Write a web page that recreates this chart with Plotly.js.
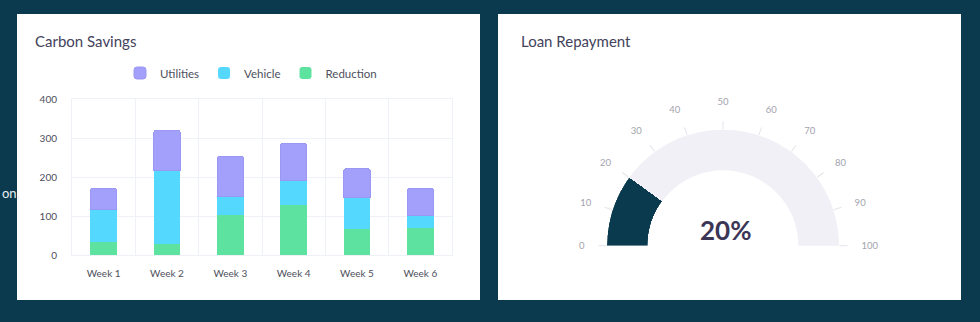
<!DOCTYPE html>
<html>
<head>
<meta charset="utf-8">
<script src="https://cdn.plot.ly/plotly-3.0.1.min.js"></script>
<style>html,body{margin:0;padding:0;background:#0b3a4f;}#chart{width:980px;height:322px;}</style>
</head>
<body>
<div id="chart"></div>
<script>
// ---- data ----
const weeks = ["Week 1", "Week 2", "Week 3", "Week 4", "Week 5", "Week 6"];
const reduction = [33, 29, 103, 127, 67, 70];
const vehicle = [83, 188, 46, 63, 81, 32];
const utilities = [55, 103, 104, 96, 73, 69];
const yTicks = [0, 100, 200, 300, 400];

const gaugeValue = 20;
const gaugeMax = 100;
const gaugeTicks = [0, 10, 20, 30, 40, 50, 60, 70, 80, 90, 100];

// ---- layout helpers ----
const W = 980, H = 322;
const px = v => v / W;
const py = v => 1 - v / H;
const FONT = "Lato, 'Open Sans', sans-serif";

const barCommon = { type: "bar", x: weeks, xaxis: "x", yaxis: "y", hoverinfo: "skip" };
const gaugeTickVals = gaugeTicks.map(v => v / gaugeMax * 180);
const traces = [
  Object.assign({}, barCommon, { name: "Reduction", y: reduction, marker: { color: "#5ee2a0" } }),
  Object.assign({}, barCommon, { name: "Vehicle", y: vehicle, marker: { color: "#55d8fe" } }),
  Object.assign({}, barCommon, { name: "Utilities", y: utilities, marker: { color: "#a3a0fb", line: { color: "#9a97f5", width: 1 } } }),
  {
    type: "barpolar",
    subplot: "polar",
    r: [1],
    theta: [gaugeValue / gaugeMax * 90],
    width: [gaugeValue / gaugeMax * 180],
    marker: { color: "#0a3a4e", line: { width: 0 } },
    showlegend: false,
    hoverinfo: "skip"
  },
  {
    type: "scatterpolar",
    subplot: "polar2",
    r: [0],
    theta: [0],
    mode: "markers",
    marker: { opacity: 0 },
    showlegend: false,
    hoverinfo: "skip"
  }
];

const gaugeDomain = { x: [px(607), px(839)], y: [py(245.7), py(129.7)] };

const layout = {
  width: W, height: H,
  autosize: false,
  margin: { l: 0, r: 0, t: 0, b: 0 },
  paper_bgcolor: "#0b3a4f",
  plot_bgcolor: "rgba(0,0,0,0)",
  font: { family: FONT, color: "#4d4f5c" },
  showlegend: true,
  barmode: "stack",
  bargap: 0.58,
  barcornerradius: 3,
  shapes: [
    { type: "rect", xref: "paper", yref: "paper", x0: px(17), x1: px(480), y0: py(300), y1: py(14), fillcolor: "#ffffff", line: { width: 0 }, layer: "below" },
    { type: "rect", xref: "paper", yref: "paper", x0: px(498), x1: px(961), y0: py(300), y1: py(14), fillcolor: "#ffffff", line: { width: 0 }, layer: "below" }
  ],
  xaxis: {
    domain: [px(72), px(452)],
    anchor: "y",
    type: "category",
    tickson: "boundaries",
    showgrid: true,
    gridcolor: "#eef1f5",
    gridwidth: 1,
    showline: true,
    linecolor: "#eef1f5",
    mirror: true,
    ticks: "",
    ticklabelstandoff: 9,
    tickfont: { size: 10, color: "#4d4f5c", family: FONT },
    fixedrange: true
  },
  yaxis: {
    domain: [py(255), py(99)],
    anchor: "x",
    range: [0, 400],
    tickvals: yTicks,
    showgrid: true,
    gridcolor: "#eef1f5",
    zeroline: true,
    zerolinecolor: "#eef1f5",
    showline: true,
    linecolor: "#eef1f5",
    mirror: true,
    ticks: "",
    ticklabelstandoff: 12,
    tickfont: { size: 10, color: "#4d4f5c", family: FONT },
    fixedrange: true
  },
  legend: {
    orientation: "h",
    x: px(120), xanchor: "left",
    y: py(73), yanchor: "middle",
    traceorder: "reversed",
    bgcolor: "rgba(0,0,0,0)",
    font: { size: 11.5, color: "#4d4f5c", family: FONT }
  },
  polar: {
    domain: gaugeDomain,
    sector: [0, 180],
    hole: 0.65,
    bgcolor: "#f0f0f6",
    bargap: 0,
    radialaxis: { visible: false, range: [0, 1] },
    angularaxis: {
      rotation: 180,
      direction: "clockwise",
      thetaunit: "degrees",
      tickvals: gaugeTickVals,
      ticktext: gaugeTicks.map(() => ""),
      ticks: "outside",
      ticklen: 8,
      tickcolor: "#e4e4ec",
      tickwidth: 1,
      showgrid: false,
      showline: false
    }
  },
  polar2: {
    domain: gaugeDomain,
    sector: [0, 180],
    hole: 0.65,
    bgcolor: "rgba(0,0,0,0)",
    radialaxis: { visible: false, range: [0, 1] },
    angularaxis: {
      rotation: 180,
      direction: "clockwise",
      thetaunit: "degrees",
      tickvals: gaugeTickVals,
      ticktext: gaugeTicks.map(v => String(v)),
      ticks: "outside",
      ticklen: 20,
      tickcolor: "rgba(0,0,0,0)",
      showgrid: false,
      showline: false,
      tickfont: { size: 9.5, color: "#a3a3ad", family: FONT }
    }
  },
  annotations: [
    { xref: "paper", yref: "paper", x: px(33), y: py(41), xanchor: "left", yanchor: "middle", text: "Carbon Savings", showarrow: false, font: { size: 15, color: "#43425d", family: FONT } },
    { xref: "paper", yref: "paper", x: px(519), y: py(41), xanchor: "left", yanchor: "middle", text: "Loan Repayment", showarrow: false, font: { size: 15, color: "#43425d", family: FONT } },
    { xref: "paper", yref: "paper", x: px(725), y: py(230), xanchor: "center", yanchor: "middle", text: "<b>" + gaugeValue + "%</b>", showarrow: false, font: { size: 26, color: "#3b3656", family: FONT } },
    { xref: "paper", yref: "paper", x: px(0), y: py(193), xanchor: "left", yanchor: "middle", text: "on,", showarrow: false, font: { size: 13, color: "#e8eef2", family: FONT } }
  ]
};

Plotly.newPlot("chart", traces, layout, { staticPlot: true, displayModeBar: false });
</script>
</body>
</html>
